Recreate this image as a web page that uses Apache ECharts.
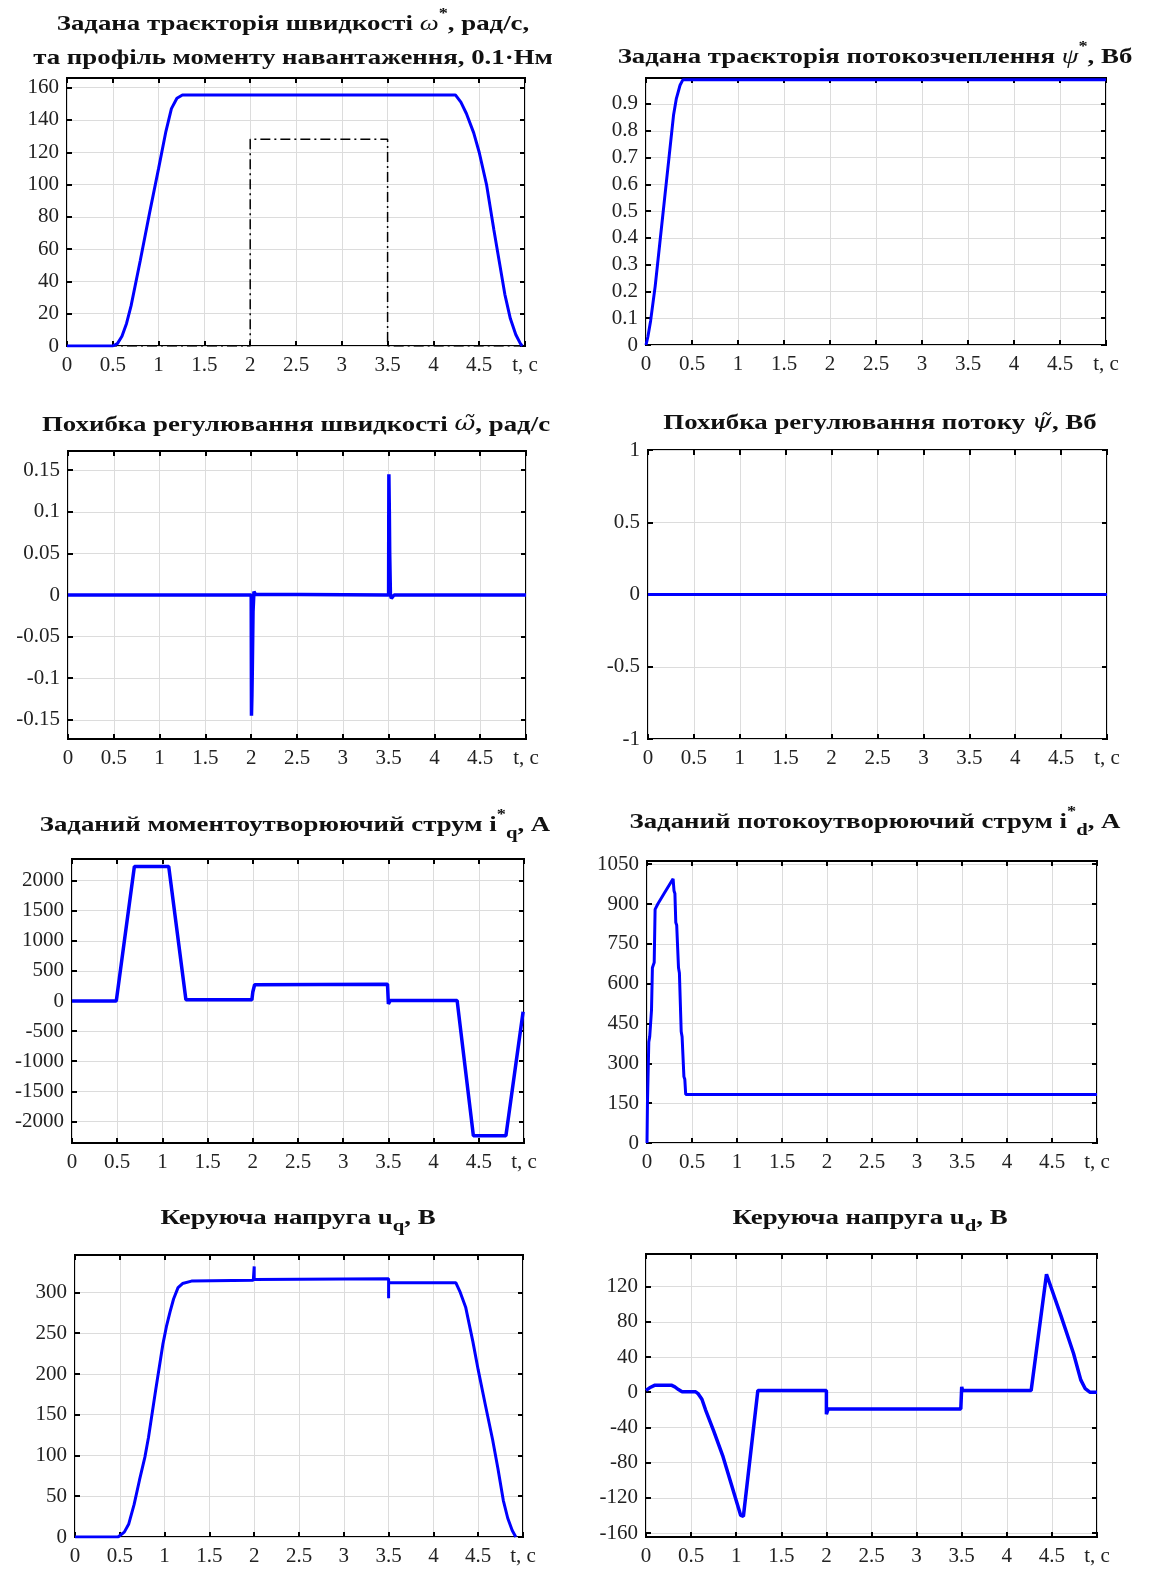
<!DOCTYPE html>
<html>
<head>
<meta charset="utf-8">
<title>Траєкторії та сигнали керування</title>
<script src="https://cdn.jsdelivr.net/npm/echarts@6.0.0/dist/echarts.min.js"></script>
</head>
<body style="margin:0;background:#fff">
<div id="container" style="width:1151px;height:1573px"></div>
<script>
// ---- data (t in seconds) ----
var omegaRef = [[0,0],[0.5,0],[0.55,1.5],[0.6,6],[0.65,14],[0.7,25],[0.8,53],[0.9,82],[1.0,110],
  [1.08,133],[1.14,147],[1.2,153.5],[1.26,155.5],[4.24,155.5],[4.3,151],[4.36,144],[4.44,132],
  [4.5,120],[4.58,100],[4.66,72],[4.72,52],[4.78,32],[4.84,17],[4.9,7],[4.95,1.5],[4.97,0]];
var loadTorque = [[0,0],[2,0],[2,128],[3.5,128],[3.5,0],[5,0]];
var psiRef = [[0,0],[0.02,0.03],[0.05,0.09],[0.1,0.22],[0.15,0.38],[0.2,0.54],[0.25,0.7],
  [0.3,0.86],[0.33,0.92],[0.37,0.97],[0.4,0.99],[5,0.99]];
var speedErr = [[0,0],[2,0],[2.003,-0.145],[2.008,-0.12],[2.012,-0.09],[2.02,-0.02],[2.03,0.004],
  [2.045,0.001],[2.06,0],[3.5,0],[3.503,0.145],[3.508,0.1],[3.512,0.05],[3.52,0],[3.53,-0.004],
  [3.55,-0.003],[3.56,0],[5,0]];
var fluxErr = [[0,0],[5,0]];
var iqRef = [[0,0],[0.49,0],[0.5,20],[0.69,2235],[1.07,2235],[1.26,20],[1.99,20],[2.0,150],
  [2.02,270],[2.04,280],[3.49,280],[3.5,-50],[3.52,10],[4.26,10],[4.44,-2240],[4.8,-2240],[4.99,-180]];
var idRef = [[0,0],[0.005,150],[0.02,380],[0.03,400],[0.05,500],[0.06,660],[0.08,680],[0.09,880],
  [0.12,900],[0.2,945],[0.29,995],[0.3,950],[0.31,940],[0.32,830],[0.33,820],[0.35,660],[0.36,640],
  [0.38,420],[0.39,400],[0.41,250],[0.42,240],[0.43,183],[5,183]];
var uq = [[0,0],[0.48,0],[0.55,6],[0.6,16],[0.66,40],[0.72,70],[0.78,98],[0.82,122],[0.9,180],
  [0.98,236],[1.02,258],[1.06,276],[1.1,292],[1.15,306],[1.2,311],[1.3,314],[1.99,315],[2.0,315],
  [2.0,332],[2.0,316],[3.5,317],[3.5,293],[3.5,312],[4.25,312],[4.3,300],[4.36,282],[4.44,240],
  [4.5,205],[4.58,162],[4.66,120],[4.72,84],[4.78,45],[4.83,23],[4.88,8],[4.92,0]];
var ud = [[0,2],[0.04,5],[0.1,8],[0.28,8],[0.32,6],[0.36,3],[0.4,0.5],[0.55,0.5],[0.58,-2],
  [0.62,-8],[0.66,-20],[0.75,-44],[0.85,-72],[0.95,-106],[1.05,-140],[1.08,-141],[1.24,2],[2,2],
  [2,-25],[2.02,-19],[3.49,-19],[3.5,6],[3.51,2],[4.27,2],[4.44,134],[4.46,134],[4.6,87],
  [4.74,44],[4.82,14],[4.87,4],[4.92,0],[5,0]];

// tick values
var omegaTicks = [0,20,40,60,80,100,120,140,160];
var psiTicks = [0,0.1,0.2,0.3,0.4,0.5,0.6,0.7,0.8,0.9];
var speedErrTicks = [-0.15,-0.1,-0.05,0,0.05,0.1,0.15];
var fluxErrTicks = [-1,-0.5,0,0.5,1];
var iqTicks = [-2000,-1500,-1000,-500,0,500,1000,1500,2000];
var idTicks = [0,150,300,450,600,750,900,1050];
var uqTicks = [0,50,100,150,200,250,300];
var udTicks = [-160,-120,-80,-40,0,40,80,120];

var SERIF = '"Liberation Serif", "Times New Roman", serif';
var BLUE = '#0000ff';

var panels = [
  { box: [67, 78, 458, 268], y: [0, 166, omegaTicks], title: 'Задана траєкторія швидкості {w|ω}{sup|*}, рад/с,\nта профіль моменту навантаження, 0.1·Нм', tpos: [293, 41],
    lines: [{ data: loadTorque, color: '#000', width: 1.5, type: [10, 4, 2, 4] }, { data: omegaRef, color: BLUE, width: 3 }] },
  { box: [646, 78, 460, 267], y: [0, 0.997, psiTicks], title: 'Задана траєкторія потокозчеплення {w|ψ}{sup|*}, Вб', tpos: [875, 57],
    lines: [{ data: psiRef, color: BLUE, width: 3 }] },
  { box: [68, 451, 458, 288], y: [-0.173, 0.173, speedErrTicks], title: 'Похибка регулювання швидкості {t|ω̃}, рад/с', tpos: [296, 425],
    lines: [{ data: speedErr, color: BLUE, width: 3.5 }] },
  { box: [648, 450, 459, 289], y: [-1, 1, fluxErrTicks], title: 'Похибка регулювання потоку {t|ψ̃}, Вб', tpos: [880, 423],
    lines: [{ data: fluxErr, color: BLUE, width: 3 }] },
  { box: [72, 859, 452, 284], y: [-2360, 2360, iqTicks], title: 'Заданий моментоутворюючий струм i{sup|*}{sub|q}, А', tpos: [295, 825],
    lines: [{ data: iqRef, color: BLUE, width: 3.5 }] },
  { box: [647, 861, 450, 282], y: [0, 1062, idTicks], title: 'Заданий потокоутворюючий струм i{sup|*}{sub|d}, А', tpos: [875, 822],
    lines: [{ data: idRef, color: BLUE, width: 3 }] },
  { box: [75, 1255, 448, 282], y: [0, 346, uqTicks], title: 'Керуюча напруга u{sub|q}, В', tpos: [298, 1218],
    lines: [{ data: uq, color: BLUE, width: 3 }] },
  { box: [646, 1254, 451, 283], y: [-164.5, 157, udTicks], title: 'Керуюча напруга u{sub|d}, В', tpos: [870, 1218],
    lines: [{ data: ud, color: BLUE, width: 3.5 }] }
];

var tickStyle = { show: true, inside: true, length: 5, lineStyle: { color: '#000', width: 2 } };
var labelStyle = { fontFamily: SERIF, fontSize: 21, color: '#222' };
var gridLine = { show: true, lineStyle: { color: '#dcdcdc', width: 1 } };

function plain(v) { return String(Math.round(v * 1000) / 1000); }

function makeX(i, pos, withLabels) {
  return {
    type: 'value', gridIndex: i, position: pos, min: 0, max: 5, interval: 0.5,
    axisLine: { show: false, onZero: false },
    axisTick: tickStyle,
    axisLabel: Object.assign({ show: withLabels, margin: 9, formatter: function (v) { return v >= 5 ? 't, c' : plain(v); } }, labelStyle),
    splitLine: Object.assign({}, gridLine, { show: withLabels })
  };
}
function makeY(i, y, pos, withLabels) {
  return {
    type: 'value', gridIndex: i, position: pos, min: y[0], max: y[1],
    axisLine: { show: false, onZero: false },
    axisTick: Object.assign({ customValues: y[2] }, tickStyle),
    axisLabel: Object.assign({ show: withLabels, margin: 8, customValues: y[2], formatter: plain }, labelStyle),
    splitLine: Object.assign({}, gridLine, { show: withLabels })
  };
}

var titleRich = {
  w: { font: 'italic 22px ' + SERIF, fill: '#111' },
  t: { font: 'italic 21px "DejaVu Serif", serif', fill: '#111' },
  sup: { font: 'bold 15px ' + SERIF, verticalAlign: 'top', lineHeight: 14, fill: '#111' },
  sub: { font: 'bold 17px ' + SERIF, verticalAlign: 'bottom', lineHeight: 16, fill: '#111' }
};

var grids = [], xAxes = [], yAxes = [], series = [], graphics = [];
panels.forEach(function (p, i) {
  grids.push({ left: p.box[0], top: p.box[1], width: p.box[2], height: p.box[3], show: true,
    borderColor: '#000', borderWidth: 2, backgroundColor: '#fff' });
  xAxes.push(makeX(i, 'bottom', true), makeX(i, 'top', false));
  yAxes.push(makeY(i, p.y, 'left', true), makeY(i, p.y, 'right', false));
  p.lines.forEach(function (ln) {
    series.push({ type: 'line', xAxisIndex: 2 * i, yAxisIndex: 2 * i, data: ln.data, showSymbol: false,
      silent: true, lineStyle: { color: ln.color, width: ln.width, type: ln.type || 'solid' } });
  });
  // the reference typesetting is horizontally stretched, hence scaleX
  graphics.push({ type: 'text', x: p.tpos[0], y: p.tpos[1], scaleX: 1.22, style: {
    text: p.title, rich: titleRich, font: 'bold 22px ' + SERIF, fill: '#111',
    align: 'center', verticalAlign: 'middle', lineHeight: 34 } });
});

var myChart = echarts.init(document.getElementById('container'));
myChart.setOption({
  animation: false,
  backgroundColor: '#fff',
  grid: grids,
  xAxis: xAxes,
  yAxis: yAxes,
  series: series,
  graphic: graphics
});
</script>
</body>
</html>
